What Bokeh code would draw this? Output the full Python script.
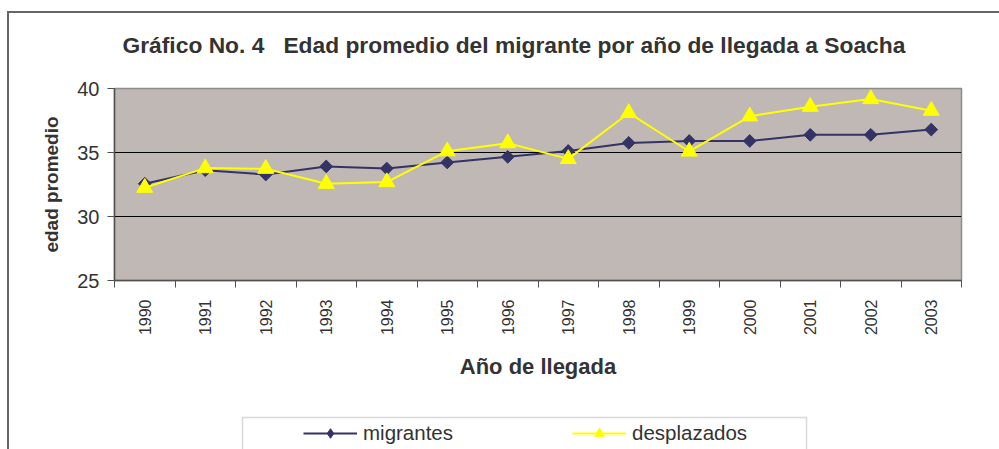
import math
from bokeh.plotting import figure
from bokeh.layouts import column
from bokeh.models import (Range1d, FixedTicker, Legend, LegendItem, BoxAnnotation,
                          ColumnDataSource, Label)
from bokeh.embed import file_html
from bokeh.resources import INLINE

# ---- data ----
years = ["1990", "1991", "1992", "1993", "1994", "1995", "1996",
         "1997", "1998", "1999", "2000", "2001", "2002", "2003"]
migrantes = [32.56, 33.62, 33.28, 33.91, 33.75, 34.22, 34.66,
             35.12, 35.75, 35.90, 35.90, 36.38, 36.38, 36.79]
desplazados = [32.25, 33.78, 33.73, 32.56, 32.69, 35.10, 35.73,
               34.50, 38.09, 35.08, 37.83, 38.58, 39.18, 38.27]
y_ticks = [25, 30, 35, 40]

title_text = "Gráfico No. 4\u00a0\u00a0\u00a0Edad promedio del migrante por año de llegada a Soacha"
x_label = "Año de llegada"
y_label = "edad promedio"

idx = list(range(len(years)))
src = ColumnDataSource(dict(x=idx, m=migrantes, d=desplazados))

FONT = "Liberation Sans"
TXT = "#333333"
C_MIG = "#333366"
C_DES = "#FFFF00"

W = 990


def strip(height):
    f = figure(width=W, height=height, output_backend="svg", toolbar_location=None,
               x_axis_location=None, y_axis_location=None,
               x_range=Range1d(100, 200), y_range=Range1d(100, 200),
               min_border=0, min_border_left=0, min_border_right=0,
               min_border_top=0, min_border_bottom=0,
               outline_line_color=None, background_fill_color="white",
               border_fill_color="white")
    f.grid.visible = False
    return f


# ---- title strip ----
tp = strip(62)
tp.add_layout(Label(x=8, y=31, x_units="screen", y_units="screen", text=title_text,
                    text_font=FONT, text_font_size="22.8px", text_font_style="bold",
                    text_color=TXT, text_baseline="middle", text_align="left"))

# ---- main chart ----
p = figure(width=W, height=333, output_backend="svg", toolbar_location=None,
           x_range=Range1d(-0.5, len(years) - 0.5), y_range=Range1d(25, 40),
           min_border_left=105, min_border_right=38, min_border_top=13,
           min_border_bottom=128, background_fill_color="#C0B8B4",
           border_fill_color="white")

p.outline_line_color = "#8c8c8c"
p.outline_line_width = 1.5

p.xgrid.visible = False
p.ygrid.ticker = FixedTicker(ticks=y_ticks)
p.ygrid.grid_line_color = "black"
p.ygrid.grid_line_width = 1

ya = p.yaxis[0]
ya.ticker = FixedTicker(ticks=y_ticks)
ya.major_tick_in = 0
ya.major_tick_out = 7
ya.minor_tick_line_color = None
ya.axis_line_color = "#505050"
ya.axis_line_width = 1.5
ya.major_tick_line_color = "#505050"
ya.major_label_text_font = FONT
ya.major_label_text_font_size = "20px"
ya.major_label_text_color = TXT
ya.major_label_standoff = 8
ya.axis_label = y_label
ya.axis_label_text_font = FONT
ya.axis_label_text_font_size = "19px"
ya.axis_label_text_font_style = "bold"
ya.axis_label_text_color = TXT
ya.axis_label_standoff = 12

xa = p.xaxis[0]
xa.ticker = FixedTicker(ticks=idx, minor_ticks=[i - 0.5 for i in range(len(years) + 1)])
xa.major_label_overrides = {i: y for i, y in enumerate(years)}
xa.major_tick_line_color = None
xa.major_tick_in = 0
xa.major_tick_out = 0
xa.minor_tick_in = 0
xa.minor_tick_out = 7
xa.minor_tick_line_color = "#505050"
xa.axis_line_color = "#505050"
xa.axis_line_width = 1.5
xa.major_label_orientation = math.pi / 2
xa.major_label_text_font = FONT
xa.major_label_text_font_size = "16px"
xa.major_label_text_color = TXT
xa.major_label_standoff = 12
xa.axis_label = x_label
xa.axis_label_text_font = FONT
xa.axis_label_text_font_size = "22px"
xa.axis_label_text_font_style = "bold"
xa.axis_label_text_color = TXT
xa.axis_label_standoff = 16

p.line("x", "m", source=src, line_color=C_MIG, line_width=2)
p.scatter("x", "m", source=src, marker="square", angle=math.pi / 4, size=9,
          fill_color=C_MIG, line_color=C_MIG)
p.line("x", "d", source=src, line_color=C_DES, line_width=2)
p.scatter("x", "d", source=src, marker="triangle", size=16,
          fill_color=C_DES, line_color=C_DES)

# ---- legend strip (same series, drawn only as legend keys) ----
lp = strip(41)
lm = lp.line("x", "m", source=src, line_color=C_MIG, line_width=2)
sm = lp.scatter("x", "m", source=src, marker="diamond", size=14,
                fill_color=C_MIG, line_color=C_MIG)
ld = lp.line("x", "d", source=src, line_color=C_DES, line_width=2)
sd = lp.scatter("x", "d", source=src, marker="triangle", size=16,
                fill_color=C_DES, line_color=C_DES)

lp.add_layout(BoxAnnotation(left=128, right=692, top=32, bottom=-20,
                            left_units="screen", right_units="screen",
                            top_units="screen", bottom_units="screen",
                            fill_alpha=0, line_color="#808080", line_width=1.5))

legend = Legend(items=[LegendItem(label="migrantes", renderers=[lm, sm]),
                       LegendItem(label="desplazados", renderers=[ld, sd])],
                location=(189, 4), orientation="horizontal",
                border_line_color=None, background_fill_alpha=0,
                padding=0, margin=0, spacing=109, glyph_width=54,
                glyph_height=24, label_height=24, label_width=100,
                label_standoff=6,
                label_text_font=FONT, label_text_font_size="20.5px",
                label_text_color=TXT)
lp.add_layout(legend, "center")

layout = column(tp, p, lp, spacing=0,
                styles={"margin-left": "7px", "margin-top": "11px",
                        "border-left": "2px solid #666666",
                        "border-top": "2px solid #666666"})

open("out.html", "w").write(file_html(layout, INLINE))
